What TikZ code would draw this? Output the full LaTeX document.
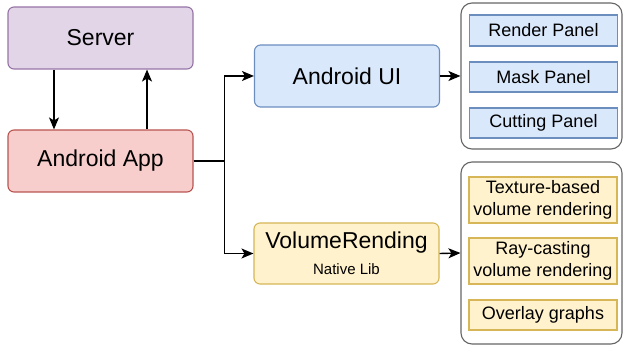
\documentclass[tikz,border=0pt]{standalone}
\usepackage{fontspec}
\setmainfont{Liberation Sans}
\usepackage{tikz}
\usetikzlibrary{arrows.meta}
\definecolor{srvfill}{HTML}{E1D5E7}
\definecolor{srvline}{HTML}{9673A6}
\definecolor{appfill}{HTML}{F8CECC}
\definecolor{appline}{HTML}{B85450}
\definecolor{uifill}{HTML}{DAE8FC}
\definecolor{uiline}{HTML}{6C8EBF}
\definecolor{volfill}{HTML}{FFF2CC}
\definecolor{volline}{HTML}{D6B656}
\definecolor{grpline}{HTML}{666666}
\tikzstyle{module} = [rounded corners=6pt, line width=1.1pt, minimum width=185pt, minimum height=62pt, inner sep=0pt, align=center, font=\fontsize{23}{27}\selectfont]
\tikzstyle{group} = [draw=grpline, fill=white, rounded corners=11pt, line width=1.1pt, minimum width=161pt, inner sep=0pt]
\tikzstyle{part} = [line width=1.1pt, minimum width=148pt, inner sep=0pt, align=center, font=\fontsize{18}{21.6}\selectfont]
\tikzstyle{link} = [line width=1.4pt, -{Stealth[length=12pt,width=10pt,inset=3pt]}]

\begin{document}
\begin{tikzpicture}[x=1pt, y=-1pt]
%\draw[help lines] (0,0) grid (624,347);
\useasboundingbox (0,0) rectangle (624,347);
\node[module, draw=srvline, fill=srvfill] (srv) at (100.5,38) {Server};
\node[module, draw=appline, fill=appfill] (app) at (100.5,161) {Android App};
\node[module, draw=uiline, fill=uifill] (ui) at (347,76) {Android UI};
\node[module, draw=volline, fill=volfill, minimum height=61pt] (vol) at (346.5,253.5)
	{VolumeRending\\[-1pt] {\fontsize{15}{18}\selectfont Native Lib}};

\node[group, minimum height=146pt] (grpA) at (541.5,76) {};
\node[part, draw=uiline, fill=uifill, minimum height=31pt] (render) at (543.5,30.5) {Render Panel};
\node[part, draw=uiline, fill=uifill, minimum height=30pt] (mask) at (543.5,77) {Mask Panel};
\node[part, draw=uiline, fill=uifill, minimum height=30pt] (cut) at (543.5,123) {Cutting Panel};

\node[group, minimum height=182pt] (grpB) at (541.5,253) {};
\node[part, draw=volline, fill=volfill, minimum height=46pt] (tex) at (543,200) {Texture-based\\volume rendering};
\node[part, draw=volline, fill=volfill, minimum height=46pt] (ray) at (543,261) {Ray-casting\\volume rendering};
\node[part, draw=volline, fill=volfill, minimum height=30pt] (over) at (543,315) {Overlay graphs};

\draw[link] ([xshift=-46.5pt]srv.south) -- ([xshift=-46.5pt]app.north);
\draw[link] ([xshift=46.5pt]app.north) -- ([xshift=46.5pt]srv.south);
\draw[link] (app.east) -- ++(31,0) |- (ui.west);
\draw[link] (app.east) -- ++(31,0) |- (vol.west);
\draw[link] (ui.east) -- (grpA.west);
\draw[link] (vol.east) -- (grpB.west);
\end{tikzpicture}
\end{document}
